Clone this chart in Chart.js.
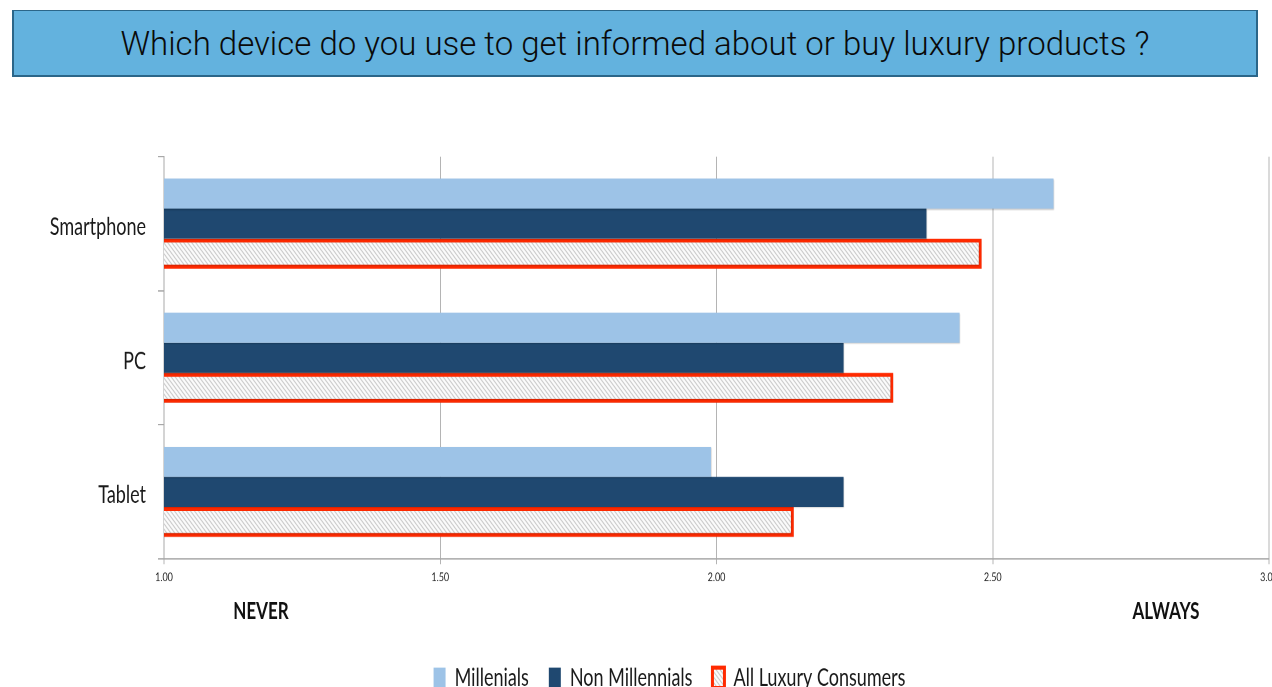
<!DOCTYPE html>
<html>
<head>
<meta charset="utf-8">
<script src="https://cdn.jsdelivr.net/npm/chart.js@4/dist/chart.umd.min.js"></script>
<style>
  html, body { margin: 0; padding: 0; background: #ffffff; overflow: hidden; width: 1272px; height: 687px; }
  #stage { position: absolute; left: 0; top: 0; width: 1290px; height: 521px; transform: scaleY(1.35); transform-origin: 0 0; }
  #title {
    position: absolute; left: 12px; top: 10px; width: 1246px; height: 67px; box-sizing: border-box;
    background: #63b2de; border: 2px solid #2b6689; border-top-width: 1px;
    font-family: Roboto, "Liberation Sans", sans-serif; font-weight: 300; font-size: 33px; color: #0a0a0a;
    text-align: center; line-height: 66px; z-index: 2;
  }
</style>
</head>
<body>
<div id="title">Which device do you use to get informed about or buy luxury products ?</div>
<div id="stage"><canvas id="chart" width="1290" height="521"></canvas></div>
<script>
// Survey answers, average score on a 1 (never) to 3 (always) scale
const categories = ['Smartphone', 'PC', 'Tablet'];
const seriesNames = ['Millenials', 'Non Millennials', 'All Luxury Consumers'];
const millenials = [2.61, 2.44, 1.99];
const nonMillennials = [2.38, 2.23, 2.23];
const allLuxury = [2.48, 2.32, 2.14];
const xTickLabels = ['1.00', '1.50', '2.00', '2.50', '3.00'];
const scaleEnds = ['NEVER', 'ALWAYS'];

// Diagonal hatch fill for the "all consumers" series
function makeHatch() {
  const c = document.createElement('canvas');
  c.width = 4; c.height = 4;
  const g = c.getContext('2d');
  g.fillStyle = '#ffffff';
  g.fillRect(0, 0, 4, 4);
  g.fillStyle = '#b0b0b0';
  for (let i = 0; i < 4; i++) g.fillRect(i, i, 1, 1);
  return g.createPattern(c, 'repeat');
}
const hatch = makeHatch();

// Soft drop shadow under the bars
const barShadow = {
  id: 'barShadow',
  beforeDatasetsDraw(chart) {
    const ctx = chart.ctx;
    ctx.save();
    ctx.shadowColor = 'rgba(0,0,0,0.22)';
    ctx.shadowBlur = 2;
    ctx.shadowOffsetX = 1;
    ctx.shadowOffsetY = 1.5;
  },
  afterDatasetsDraw(chart) { chart.ctx.restore(); }
};

// NEVER / ALWAYS captions under the value axis
const endCaptions = {
  id: 'endCaptions',
  afterDraw(chart) {
    const ctx = chart.ctx, a = chart.chartArea;
    ctx.save();
    ctx.font = 'bold 17px Lato, sans-serif';
    ctx.fillStyle = '#111';
    ctx.textAlign = 'center';
    ctx.textBaseline = 'middle';
    ctx.fillText(scaleEnds[0], a.left + 97, 453);
    ctx.fillText(scaleEnds[1], a.right - 103, 453);
    ctx.restore();
  }
};

// Shift the legend row to the right of the plot centre
const legendShift = {
  id: 'legendShift',
  afterLayout(chart) {
    if (chart.legend) { chart.legend.left += 35; chart.legend.right += 35; }
  }
};

new Chart(document.getElementById('chart'), {
  type: 'bar',
  data: {
    labels: categories,
    datasets: [
      { label: seriesNames[0], data: millenials, backgroundColor: '#9dc3e7', borderWidth: 0 },
      { label: seriesNames[1], data: nonMillennials, backgroundColor: '#1f4870', borderWidth: 0 },
      { label: seriesNames[2], data: allLuxury, backgroundColor: hatch, borderColor: '#ff2a00', borderWidth: 3, borderSkipped: false }
    ]
  },
  options: {
    indexAxis: 'y',
    responsive: false,
    animation: false,
    devicePixelRatio: 2,
    categoryPercentage: 0.672,
    barPercentage: 1,
    layout: { padding: { top: 116, right: 21, left: 0, bottom: 0 } },
    scales: {
      x: {
        min: 1, max: 3,
        ticks: {
          stepSize: 0.5,
          padding: 4,
          color: '#222',
          font: { family: 'Lato, sans-serif', size: 9 },
          maxRotation: 0,
          callback: (v, i) => xTickLabels[i]
        },
        grid: { color: '#b4b4b4', lineWidth: 1, tickLength: 4, drawTicks: true },
        border: { display: true, color: '#a8a8a8' },
        afterFit(scale) { scale.height = 59; }
      },
      y: {
        ticks: {
          padding: 12,
          labelOffset: 2.5,
          color: '#1a1a1a',
          font: { family: 'Lato, sans-serif', size: 18 }
        },
        grid: { drawOnChartArea: false, drawTicks: true, tickLength: 6, color: '#a8a8a8', offset: true },
        border: { display: true, color: '#a8a8a8' },
        afterFit(scale) { scale.width = 164; }
      }
    },
    plugins: {
      title: { display: false },
      tooltip: { enabled: false },
      legend: {
        position: 'bottom',
        labels: {
          boxWidth: 12,
          boxHeight: 15,
          padding: 20,
          color: '#1a1a1a',
          font: { family: 'Lato, sans-serif', size: 18 }
        }
      }
    }
  },
  plugins: [barShadow, endCaptions, legendShift]
});
</script>
</body>
</html>
